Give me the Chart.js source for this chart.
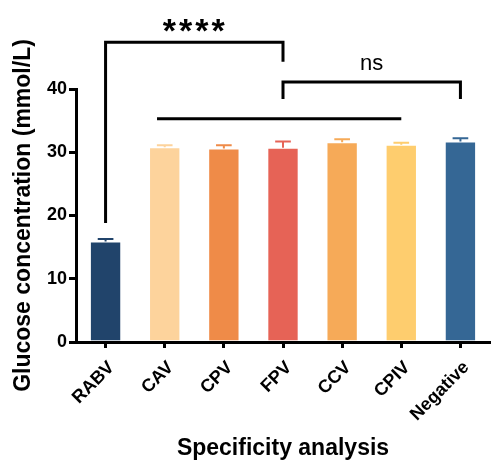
<!DOCTYPE html>
<html>
<head>
<meta charset="utf-8">
<script src="https://cdn.jsdelivr.net/npm/chart.js@4.4.0/dist/chart.umd.min.js"></script>
<style>
  body { margin: 0; background: #fff; }
  #wrap { width: 491px; height: 460px; }
</style>
</head>
<body>
<div id="wrap"><canvas id="glucose_chart"></canvas></div>
<script>
const groups = ['RABV', 'CAV', 'CPV', 'FPV', 'CCV', 'CPIV', 'Negative'];
const glucoseMean = [15.9, 30.8, 30.6, 30.7, 31.6, 31.2, 31.7];
const glucoseSD = [0.4, 0.3, 0.5, 1.0, 0.45, 0.3, 0.5];
const barColors = ['#21446b', '#fdd39c', '#ef8b48', '#e66356', '#f6aa58', '#fecd6e', '#356795'];

// significance brackets (group index from/to, level in mmol/L)
const sigFrom = [0, 3];
const sigTo = [3, 6];
const sigLevel = [47.4, 41.1];
const sigLeftLeg = [18.8, 38.4];
const sigRightLeg = [44.3, 38.4];
const sigLabel = ['****', 'ns'];
// plain line over the virus groups
const lineFrom = 0.87;
const lineTo = 5;
const lineLevel = 35.3;

const FONT = "'Liberation Sans', Arial, sans-serif";

const errorBars = {
    id: 'errorBars',
    afterDatasetsDraw(chart) {
        const ctx = chart.ctx;
        const y = chart.scales.y;
        const meta = chart.getDatasetMeta(0);
        ctx.save();
        meta.data.forEach((bar, i) => {
            const top = y.getPixelForValue(glucoseMean[i] + glucoseSD[i]);
            const half = bar.width / 4;
            ctx.strokeStyle = barColors[i];
            ctx.lineWidth = 2;
            ctx.beginPath();
            ctx.moveTo(bar.x, bar.y);
            ctx.lineTo(bar.x, top);
            ctx.moveTo(bar.x - half, top);
            ctx.lineTo(bar.x + half, top);
            ctx.stroke();
        });
        ctx.restore();
    }
};

const sigMarks = {
    id: 'sigMarks',
    afterDraw(chart) {
        const ctx = chart.ctx;
        const x = chart.scales.x;
        const y = chart.scales.y;
        ctx.save();
        ctx.strokeStyle = '#000';
        ctx.fillStyle = '#000';
        ctx.lineWidth = 3;
        ctx.lineCap = 'butt';
        ctx.lineJoin = 'miter';

        for (let i = 0; i < sigFrom.length; i++) {
            const x1 = x.getPixelForValue(sigFrom[i]);
            const x2 = x.getPixelForValue(sigTo[i]);
            const yy = y.getPixelForValue(sigLevel[i]);
            ctx.beginPath();
            ctx.moveTo(x1, y.getPixelForValue(sigLeftLeg[i]));
            ctx.lineTo(x1, yy);
            ctx.lineTo(x2, yy);
            ctx.lineTo(x2, y.getPixelForValue(sigRightLeg[i]));
            ctx.stroke();

            ctx.textAlign = 'center';
            ctx.textBaseline = 'middle';
            if (sigLabel[i] === 'ns') {
                ctx.font = '22px ' + FONT;
                ctx.fillText(sigLabel[i], (x1 + x2) / 2, yy - 18);
            } else {
                ctx.font = 'bold 34px ' + FONT;
                ctx.letterSpacing = '3px';
                ctx.fillText(sigLabel[i], (x1 + x2) / 2 + 1, yy - 10);
                ctx.letterSpacing = '0px';
            }
        }

        ctx.beginPath();
        ctx.moveTo(x.getPixelForValue(lineFrom), y.getPixelForValue(lineLevel));
        ctx.lineTo(x.getPixelForValue(lineTo), y.getPixelForValue(lineLevel));
        ctx.stroke();
        ctx.restore();
    }
};

const data = {
    labels: groups,
    datasets: [{
        data: glucoseMean,
        backgroundColor: barColors,
        borderColor: 'rgba(255, 255, 255, 0.35)',
        borderWidth: 1,
        barPercentage: 0.53,
        categoryPercentage: 1
    }]
};

const config = {
    type: 'bar',
    data: data,
    options: {
        responsive: true,
        maintainAspectRatio: false,
        animation: false,
        layout: { padding: { top: 89, right: 1, left: 0, bottom: 0 } },
        plugins: {
            legend: { display: false },
            tooltip: { enabled: false }
        },
        scales: {
            x: {
                offset: true,
                afterFit: s => { s.height = 118; },
                grid: {
                    offset: false,
                    drawOnChartArea: false,
                    drawTicks: true,
                    tickLength: 6,
                    lineWidth: 3,
                    color: '#000'
                },
                border: { display: true, width: 3, color: '#000' },
                ticks: {
                    color: '#000',
                    font: { family: FONT, size: 18, weight: 'bold' },
                    minRotation: 45,
                    maxRotation: 45,
                    padding: 9,
                    labelOffset: 6,
                    autoSkip: false
                },
                title: {
                    display: true,
                    text: 'Specificity analysis',
                    color: '#000',
                    font: { family: FONT, size: 23, weight: 'bold', lineHeight: 1 },
                    padding: { top: 0, bottom: 0 }
                }
            },
            y: {
                min: 0,
                max: 40,
                afterFit: s => { s.width = 76; },
                grid: {
                    drawOnChartArea: false,
                    drawTicks: true,
                    tickLength: 7,
                    lineWidth: 3,
                    color: '#000'
                },
                border: { display: true, width: 3, color: '#000' },
                ticks: {
                    stepSize: 10,
                    color: '#000',
                    font: { family: FONT, size: 18, weight: 'bold' },
                    padding: 2
                },
                title: {
                    display: true,
                    text: 'Glucose concentration (mmol/L)',
                    color: '#000',
                    font: { family: FONT, size: 23, weight: 'bold', lineHeight: 1 },
                    padding: { top: 12, bottom: 0 }
                }
            }
        }
    },
    plugins: [errorBars, sigMarks]
};

const myChart = new Chart(document.getElementById('glucose_chart'), config);
</script>
</body>
</html>
